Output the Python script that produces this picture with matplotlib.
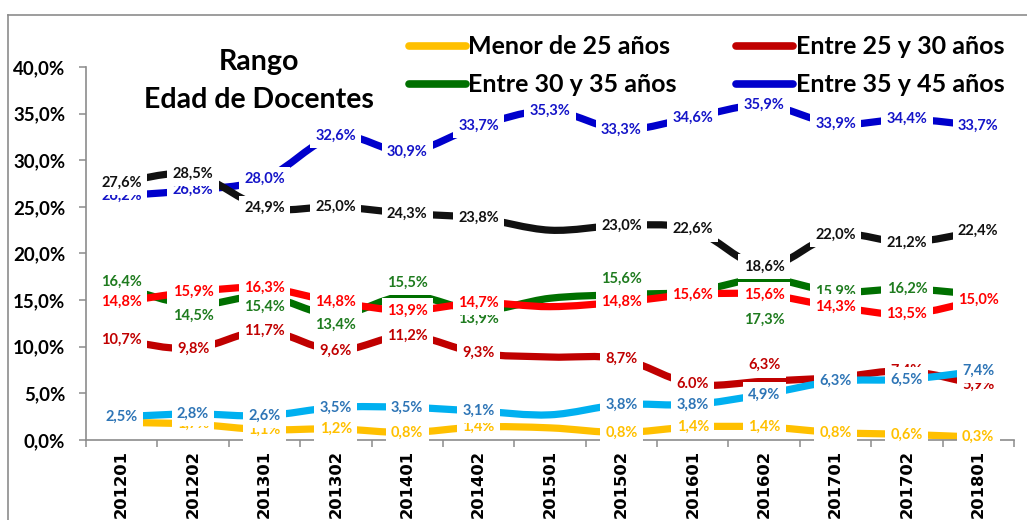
import numpy as np
import matplotlib
matplotlib.use("Agg")
import matplotlib.pyplot as plt
from matplotlib.path import Path
from matplotlib.patches import PathPatch
from matplotlib.lines import Line2D
from matplotlib.ticker import FuncFormatter, FixedLocator

# ---------------- data ----------------
periods = ["201201", "201202", "201301", "201302", "201401", "201402", "201501",
           "201502", "201601", "201602", "201701", "201702", "201801"]

menor_25 = [1.9, 1.7, 1.1, 1.2, 0.8, 1.4, 1.3, 0.8, 1.4, 1.4, 0.8, 0.6, 0.3]
entre_25_30 = [10.7, 9.8, 11.7, 9.6, 11.2, 9.3, 8.9, 8.7, 6.0, 6.3, 6.7, 7.4, 5.9]
entre_30_35 = [16.4, 14.5, 15.4, 13.4, 15.5, 13.9, 15.2, 15.6, 15.9, 17.3, 15.9, 16.2, 15.6]
entre_35_45 = [26.2, 26.8, 28.0, 32.6, 30.9, 33.7, 35.3, 33.3, 34.6, 35.9, 33.9, 34.4, 33.7]
serie_roja = [14.8, 15.9, 16.3, 14.8, 13.9, 14.7, 14.3, 14.8, 15.6, 15.6, 14.3, 13.5, 15.0]
serie_negra = [27.6, 28.5, 24.9, 25.0, 24.3, 23.8, 22.5, 23.0, 22.6, 18.6, 22.0, 21.2, 22.4]
serie_celeste = [2.5, 2.8, 2.6, 3.5, 3.5, 3.1, 2.7, 3.8, 3.8, 4.9, 6.3, 6.5, 7.4]

legend_names = ["Menor de 25 años", "Entre 25 y 30 años",
                "Entre 30 y 35 años", "Entre 35 y 45 años"]

title_text = "Rango\nEdad de Docentes"

# series: values, line colour, label colour, legend name, hidden label idx, label offsets(px)
series = [
    (menor_25, "#FFC000", "#FFC000", legend_names[0], {6}, {}),
    (entre_25_30, "#C00000", "#C00000", legend_names[1], {6}, {9: 16}),
    (entre_30_35, "#007000", "#1E7B1E", legend_names[2], {6, 8, 12},
     {0: 5, 1: -11, 2: -10, 3: -10, 4: 13, 5: -8, 7: 16, 9: -41}),
    (entre_35_45, "#0000CC", "#1414C8", legend_names[3], set(), {}),
    (serie_roja, "#FF0000", "#FF0000", None, {6}, {}),
    (serie_negra, "#111111", "#111111", None, {6}, {}),
    (serie_celeste, "#00B0F0", "#2E75B6", None, {6}, {}),
]
label_override = {(1, 8): "6.0%"}

# ---------------- helpers ----------------
def smooth_path(x, y):
    n = len(x)
    verts = [(x[0], y[0])]
    codes = [Path.MOVETO]
    for i in range(n - 1):
        p0 = (x[i - 1], y[i - 1]) if i > 0 else (x[i], y[i])
        p1 = (x[i], y[i])
        p2 = (x[i + 1], y[i + 1])
        p3 = (x[i + 2], y[i + 2]) if i + 2 < n else p2
        c1 = (p1[0] + (p2[0] - p0[0]) / 6.0, p1[1] + (p2[1] - p0[1]) / 6.0)
        c2 = (p2[0] - (p3[0] - p1[0]) / 6.0, p2[1] - (p3[1] - p1[1]) / 6.0)
        verts += [c1, c2, p2]
        codes += [Path.CURVE4] * 3
    return Path(verts, codes)

def pct(v):
    return f"{v:.1f}%".replace(".", ",")

# ---------------- figure ----------------
W, H = 1027, 520
fig = plt.figure(figsize=(W / 100, H / 100), dpi=100)
fig.patch.set_facecolor("white")
ax = fig.add_axes([86 / W, 80 / H, 928 / W, 373 / H])

x = np.arange(len(periods))
handles = {}
for k, (vals, col, lcol, name, hidden, offs) in enumerate(series):
    p = PathPatch(smooth_path(x, vals), fill=False, edgecolor=col, lw=5.2,
                  capstyle="butt", joinstyle="round", zorder=2 + k * 0.01)
    ax.add_patch(p)
    if name:
        handles[name] = Line2D([], [], color=col, lw=5.5, solid_capstyle="round")

for k, (vals, col, lcol, name, hidden, offs) in enumerate(series):
    for i, v in enumerate(vals):
        if i in hidden:
            continue
        txt = label_override.get((k, i), pct(v))
        ax.annotate(txt, (x[i], v), xytext=(0, offs.get(i, 0) * 0.72),
                    textcoords="offset points", ha="center", va="center",
                    fontsize=10.5, fontweight="bold", family="Lato", color=lcol,
                    bbox=dict(boxstyle="square,pad=0.36", fc="white", ec="none"),
                    zorder=10 + k)

ax.set_xlim(-0.5, len(periods) - 0.5)
ax.set_ylim(0, 40)

ax.set_xticks(x)
ax.set_xticklabels(periods, rotation=90, fontsize=11.8, fontweight="bold",
                   family="DejaVu Sans", va="top")
ax.xaxis.set_minor_locator(FixedLocator(np.arange(-0.5, len(periods), 1.0)))
ax.tick_params(axis="x", which="major", length=0, pad=7)
ax.tick_params(axis="x", which="minor", length=5, width=1.1, color="#8C8C8C")

ax.set_yticks(np.arange(0, 41, 5))
ax.yaxis.set_major_formatter(FuncFormatter(lambda v, _: pct(v)))
ax.tick_params(axis="y", length=5, width=1.1, color="#8C8C8C", pad=10)
for lab in ax.get_yticklabels():
    lab.set_fontsize(13.5)
    lab.set_fontweight("bold")
    lab.set_family("Lato")

for s in ["top", "right"]:
    ax.spines[s].set_visible(False)
for s in ["left", "bottom"]:
    ax.spines[s].set_color("#8C8C8C")
    ax.spines[s].set_linewidth(1.2)
ax.set_facecolor("none")

# title
fig.text(259 / W, 1 - 81 / H, title_text, ha="center", va="center",
         fontsize=20.5, fontweight="bold", family="Lato", linespacing=1.58)

# legend (column-first order gives rows: yellow/red, green/blue)
order = [legend_names[0], legend_names[2], legend_names[1], legend_names[3]]
leg = fig.legend([handles[n] for n in order], order, ncol=2, frameon=False,
                 loc="upper left", bbox_to_anchor=(396 / W, 1 - 23 / H),
                 prop=dict(family="Lato", weight="bold", size=18),
                 handlelength=2.3, handletextpad=0.1, columnspacing=2.35,
                 labelspacing=0.6, borderpad=0)

# chart area frame (top & left visible)
fig.add_artist(Line2D([8 / W, 1.0], [1 - 15 / H] * 2, transform=fig.transFigure,
                      color="#8C8C8C", lw=1.2))
fig.add_artist(Line2D([8 / W] * 2, [0.0, 1 - 15 / H], transform=fig.transFigure,
                      color="#8C8C8C", lw=1.2))

fig.savefig("out.png", dpi=100)
